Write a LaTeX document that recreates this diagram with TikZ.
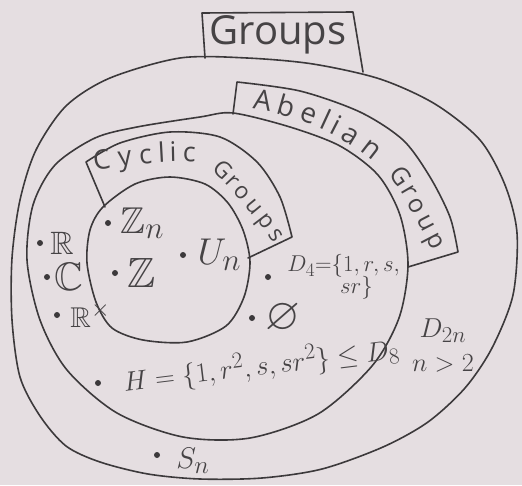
\documentclass[tikz,border=0pt]{standalone}
\usepackage{amsmath,amssymb}
\usepackage{fontspec}
\setmainfont{Open Sans}
\usepackage{tikz}
\usetikzlibrary{positioning}

\definecolor{paper}{RGB}{229,222,225}
\definecolor{pencil}{RGB}{60,57,59}
\definecolor{ink}{RGB}{70,67,69}
\newcommand{\handfont}[1]{\fontsize{#1}{#1}\selectfont}

\begin{document}
\begin{tikzpicture}[x=1pt, y=-1pt,
  rim/.style={draw=pencil, line width=1.6pt, line cap=round, line join=round},
  pt/.style={circle, fill=pencil, inner sep=0pt, minimum size=6pt},
  elem/.style={text=ink, inner sep=0pt, font=\Huge},
  letter/.style={text=ink, inner sep=0pt, anchor=base, sloped}
]
  \fill[paper] (0,0) rectangle (522,485);
  \useasboundingbox (0,0) rectangle (522,485);

  % all groups
  \draw[rim] plot[smooth cycle] coordinates {(110,78) (180,58) (247,58) (313,64) (380,79) (435,104) (480,140)
    (505,185) (517,233) (513,295) (492,348) (465,388) (428,422) (383,447) (322,469) (262,478) (200,479)
    (148,474) (100,462) (66,446) (40,416) (20,377) (12,320) (12,258) (20,200) (36,150) (66,106)};
  \draw[rim] (205,58) -- (202,13) -- (353,12) -- (363,72);
  \node[text=ink, font=\handfont{40}] (grp) at (278,35) {Groups};

  % abelian groups
  \draw[rim] plot[smooth cycle] coordinates {(137,127) (200,117) (233,113) (290,127) (340,146) (378,175)
    (400,215) (408,265) (399,318) (372,366) (318,414) (250,438) (183,437) (117,413) (67,370) (40,320)
    (27,260) (33,205) (55,165) (95,138)};
  \draw[rim] (233,114) -- plot[smooth] coordinates {(237,82) (300,91) (360,112) (403,140) (430,177) (450,217) (458,252)} -- (408,267);
  \path (261,110) .. controls (295,116) and (335,132) .. (366,156)
    foreach \ch/\p [count=\i] in {A/0, b/0.22, e/0.42, l/0.565, i/0.655, a/0.8, n/1} {node[letter, font=\handfont{28}, pos=\p] (ab\i) {\ch}};
  \path (394,181) .. controls (406,199) and (418,223) .. (429,244)
    foreach \ch/\p [count=\i] in {G/0, r/0.242, o/0.463, u/0.731, p/1} {node[letter, font=\handfont{25}, pos=\p] (ag\i) {\ch}};

  % cyclic groups
  \draw[rim] plot[smooth cycle] coordinates {(170,177) (205,184) (228,203) (243,230) (250,262) (244,297)
    (226,326) (187,342) (143,340) (112,328) (96,302) (87,263) (90,230) (103,207) (135,184)};
  \draw[rim] (105,207) -- plot[smooth] coordinates {(86,162) (120,143) (170,132) (220,137) (257,162) (280,197) (292,237)} -- (248,258);
  \path (103,169) .. controls (130,165) and (160,161) .. (189,162)
    foreach \ch/\p [count=\i] in {C/0, y/0.275, c/0.513, l/0.693, i/0.82, c/1} {node[letter, font=\handfont{27}, pos=\p] (cy\i) {\ch}};
  \path (217,175) .. controls (235,193) and (254,215) .. (271,239)
    foreach \ch/\p [count=\i] in {G/0, r/0.195, o/0.375, u/0.59, p/0.806, s/1} {node[letter, font=\handfont{23}, pos=\p] (cg\i) {\ch}};

  % elements
  \node[pt] (dR) at (40,243) {};
  \node[elem, scale=1.3, right=7pt of dR] (R) {$\mathbb{R}$};
  \node[pt] (dC) at (47,277) {};
  \node[elem, scale=1.6, right=4pt of dC] (C) {$\mathbb{C}$};
  \node[pt] (dRx) at (57,315) {};
  \node[elem, scale=1.15, right=10pt of dRx] (Rx) {$\mathbb{R}^{\times}$};
  \node[pt] (dZn) at (108,223) {};
  \node[elem, scale=1.5, right=9pt of dZn] (Zn) {$\mathbb{Z}_n$};
  \node[pt] (dZ) at (115,273) {};
  \node[elem, scale=1.7, right=9pt of dZ] (Z) {$\mathbb{Z}$};
  \node[pt] (dU) at (183,255) {};
  \node[elem, scale=1.5, right=11pt of dU] (Un) {$U_n$};
  \node[pt] (dD) at (268,277) {};
  \node[elem, scale=0.92, align=left, right=16pt of dD] (D4) {$D_4{=}\{1,r,s,$\\[-6pt]\hspace*{2.3em}$sr\}$};
  \node[pt] (dQ) at (252,318) {};
  \node[elem, scale=1.8, right=10pt of dQ] (Q) {$\varnothing$};
  \node[pt] (dH) at (98,383) {};
  \node[elem, scale=1.1, rotate=7, right=22pt of dH] (H) {$H=\{1,r^2,s,sr^2\}\leq D_8$};
  \node[pt] (dS) at (157,455) {};
  \node[elem, scale=1.2, right=16pt of dS, yshift=-5pt] (Sn) {$S_n$};
  \node[elem, scale=1.1] (D2n) at (443,331) {$D_{2n}$};
  \node[elem, scale=1.05] (n2) at (443,363) {$n>2$};
\end{tikzpicture}
\end{document}
